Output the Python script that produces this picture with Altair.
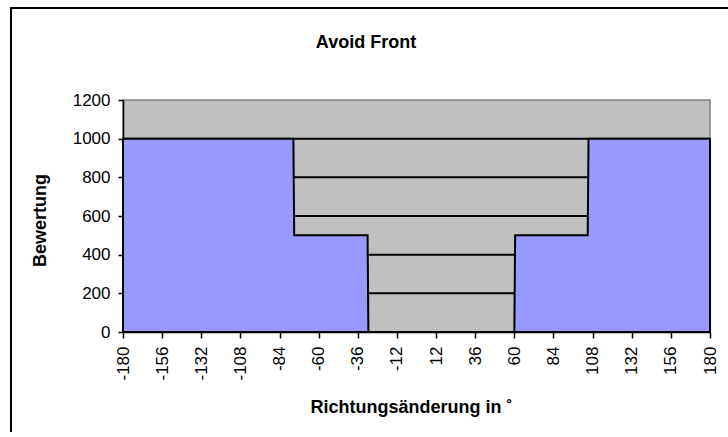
import altair as alt
import pandas as pd

# Step profile of the rating over the change of heading (degrees)
ANGLES = [-180, -75.5, -75, -30, -29.5, 60, 60.5, 105, 105.5, 180]
SCORES = [1000, 1000, 500, 500, 0, 0, 500, 500, 1000, 1000]

X_TICKS = [-180, -156, -132, -108, -84, -60, -36, -12, 12, 36, 60, 84, 108, 132, 156, 180]
Y_TICKS = [0, 200, 400, 600, 800, 1000, 1200]
GRID_LINES = [200, 400, 600, 800, 1000]

TITLE = "Avoid Front"
X_TITLE = "Richtungsänderung in ˚"
Y_TITLE = "Bewertung"

FONT = "Liberation Sans"
W, H = 587, 232
LEFT, TOP = 123, 100
TOTAL_W, TOTAL_H = 728, 432

curve = pd.DataFrame({"angle": ANGLES, "score": SCORES})
grid = pd.DataFrame({"score": GRID_LINES})
one = pd.DataFrame({"t": [TITLE]})

x_scale = alt.Scale(domain=[-180, 180], nice=False, zero=False)
y_scale = alt.Scale(domain=[0, 1200], nice=False)

# plain hyphen-minus for negative tick labels
plain_label = "replace(datum.label, '\u2212', '-')"

x_axis = alt.Axis(
    values=X_TICKS, labelAngle=-90, labelAlign="right", labelBaseline="middle",
    labelPadding=8, tickSize=6, labelOverlap=False, labelFlush=False,
    labelExpr=plain_label,
    title=X_TITLE, titleX=288, titleY=80, titleBaseline="alphabetic",
)
y_axis = alt.Axis(
    values=Y_TICKS, format="d", tickSize=5, labelPadding=8, labelOverlap=False,
    title=Y_TITLE, titleX=-78, titleY=120, titleAngle=-90,
    titleBaseline="alphabetic", titleAlign="center",
)

grid_rules = alt.Chart(grid).mark_rule(color="black", strokeWidth=2).encode(
    y=alt.Y("score:Q", scale=y_scale, axis=y_axis)
)

area = alt.Chart(curve).mark_area(
    fill="#9999FF", stroke="black", strokeWidth=2, interpolate="linear"
).encode(
    x=alt.X("angle:Q", scale=x_scale, axis=x_axis),
    y=alt.Y("score:Q", scale=y_scale, axis=y_axis),
)

title = alt.Chart(one).mark_text(
    font=FONT, fontSize=18, fontWeight="bold", color="black",
    align="center", baseline="alphabetic",
).encode(
    x=alt.value(366 - LEFT), y=alt.value(48 - TOP), text="t:N"
)

# Outer chart frame; its right and bottom edges run past the canvas
frame = alt.Chart(one).mark_rect(
    fillOpacity=0, stroke="black", strokeWidth=2
).encode(
    x=alt.value(11 - LEFT), x2=alt.value(TOTAL_W + 20 - LEFT),
    y=alt.value(8 - TOP), y2=alt.value(TOTAL_H + 20 - TOP),
)

chart = alt.layer(grid_rules, area, title, frame).properties(
    width=W, height=H,
    padding={"left": LEFT, "top": TOP, "right": TOTAL_W - LEFT - W,
             "bottom": TOTAL_H - TOP - H},
    autosize=alt.AutoSizeParams(type="none"),
    background="white",
).configure_view(
    fill="#C0C0C0", stroke="#808080", strokeWidth=1.5
).configure_axis(
    grid=False,
    labelFont=FONT, labelFontSize=17, labelColor="black",
    titleFont=FONT, titleFontSize=18, titleFontWeight="bold", titleColor="black",
    domainColor="black", domainWidth=1.5, tickColor="black", tickWidth=1.5,
)

chart.save("out.html", embed_options={"renderer": "svg", "actions": False})
